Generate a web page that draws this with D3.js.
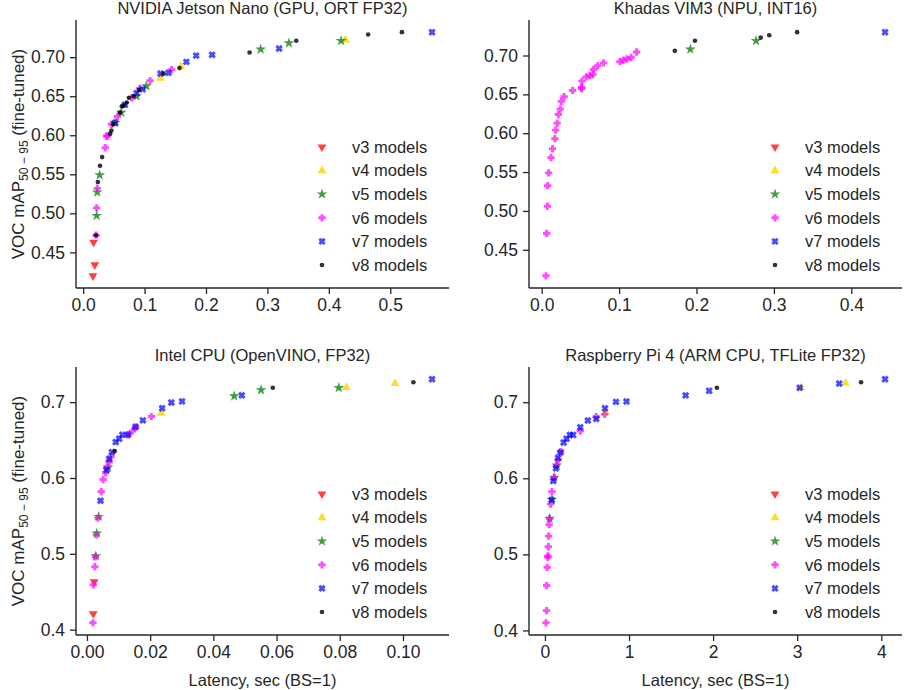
<!DOCTYPE html>
<html>
<head>
<meta charset="utf-8">
<script src="https://cdn.jsdelivr.net/npm/d3@7"></script>
<style>
  body { margin: 0; background: #fff; }
  text { font-family: "Liberation Sans", Arial, sans-serif; fill: #262626; }
</style>
</head>
<body>
<svg id="chart" width="905" height="690"></svg>
<script>
// series labels, one per model family
const seriesNames = ["v3 models", "v4 models", "v5 models", "v6 models", "v7 models", "v8 models"];
const panelTitles = [
  "NVIDIA Jetson Nano (GPU, ORT FP32)",
  "Khadas VIM3 (NPU, INT16)",
  "Intel CPU (OpenVINO, FP32)",
  "Raspberry Pi 4 (ARM CPU, TFLite FP32)"
];

// [latency sec, mAP]
const nanoV3 = [[0.016, 0.420], [0.019, 0.434], [0.017, 0.463]];
const nanoV4 = [[0.126, 0.673], [0.159, 0.688], [0.427, 0.722]];
const nanoV5 = [[0.022, 0.497], [0.023, 0.527], [0.027, 0.549], [0.052, 0.616], [0.062, 0.629],
  [0.087, 0.650], [0.103, 0.663], [0.289, 0.710], [0.335, 0.718], [0.420, 0.721]];
const nanoV6 = [[0.021, 0.472], [0.022, 0.507], [0.023, 0.532], [0.036, 0.584], [0.038, 0.599],
  [0.040, 0.599], [0.046, 0.614], [0.056, 0.624], [0.079, 0.648], [0.092, 0.660], [0.109, 0.670], [0.144, 0.684]];
const nanoV7 = [[0.052, 0.616], [0.068, 0.639], [0.087, 0.654], [0.097, 0.659], [0.126, 0.679], [0.139, 0.680],
  [0.168, 0.694], [0.184, 0.702], [0.210, 0.703], [0.319, 0.711], [0.568, 0.732]];
const nanoV8 = [[0.021, 0.472], [0.024, 0.540], [0.0275, 0.561], [0.031, 0.572], [0.044, 0.602], [0.046, 0.606],
  [0.049, 0.614], [0.060, 0.629], [0.063, 0.637], [0.066, 0.638], [0.071, 0.642], [0.0745, 0.648], [0.082, 0.650],
  [0.091, 0.658], [0.131, 0.679], [0.157, 0.686], [0.271, 0.706], [0.347, 0.721], [0.464, 0.729], [0.519, 0.732]];

const vimV3 = [];
const vimV4 = [];
const vimV5 = [[0.192, 0.708], [0.277, 0.719]];
const vimV6 = [[0.0055, 0.4165], [0.0064, 0.471], [0.0073, 0.506], [0.0077, 0.5325], [0.009, 0.549], [0.012, 0.5686],
  [0.014, 0.580], [0.017, 0.593], [0.018, 0.604], [0.020, 0.613], [0.0215, 0.624], [0.024, 0.631], [0.0253, 0.641],
  [0.029, 0.647], [0.040, 0.655], [0.0515, 0.6575], [0.0515, 0.659], [0.052, 0.667], [0.0575, 0.6725], [0.062, 0.674],
  [0.066, 0.6755], [0.067, 0.682], [0.0725, 0.687], [0.080, 0.6905], [0.101, 0.692], [0.1055, 0.694], [0.110, 0.6955],
  [0.1155, 0.6975], [0.1227, 0.7045]];
const vimV7 = [[0.4436, 0.730]];
const vimV8 = [[0.172, 0.706], [0.198, 0.719], [0.283, 0.723], [0.294, 0.726], [0.330, 0.730]];

const cpuV3 = [[0.0020, 0.421], [0.0023, 0.463]];
const cpuV4 = [[0.0235, 0.6855], [0.0821, 0.7195], [0.0975, 0.7246]];
const cpuV5 = [[0.0028, 0.497], [0.0031, 0.527], [0.0037, 0.549], [0.0067, 0.614], [0.0466, 0.708], [0.0551, 0.716], [0.0797, 0.719]];
const cpuV6 = [[0.0019, 0.409], [0.0020, 0.459], [0.0025, 0.483], [0.0027, 0.496], [0.0030, 0.525], [0.0035, 0.547],
  [0.0045, 0.582], [0.0051, 0.598], [0.0059, 0.607], [0.0063, 0.614], [0.0070, 0.621], [0.0076, 0.628], [0.0130, 0.657],
  [0.0144, 0.662], [0.0154, 0.667], [0.0204, 0.681]];
const cpuV7 = [[0.0043, 0.570], [0.0062, 0.6105], [0.0070, 0.625], [0.0079, 0.634], [0.0091, 0.6474], [0.0102, 0.6518],
  [0.0112, 0.657], [0.0130, 0.657], [0.0154, 0.6675], [0.0177, 0.676], [0.0238, 0.692], [0.0267, 0.6995], [0.0301, 0.701],
  [0.0490, 0.709], [0.1092, 0.7303]];
const cpuV8 = [[0.0088, 0.6355], [0.0588, 0.719], [0.1033, 0.7262]];

const rpiV3 = [];
const rpiV4 = [[0.72, 0.687], [3.045, 0.719], [3.575, 0.725]];
const rpiV5 = [[0.055, 0.547], [0.083, 0.572], [0.11, 0.601], [0.14, 0.617]];
const rpiV6 = [[0.012, 0.410], [0.02, 0.426], [0.02, 0.459], [0.027, 0.483], [0.035, 0.496], [0.035, 0.498], [0.04, 0.510],
  [0.044, 0.524], [0.05, 0.539], [0.055, 0.547], [0.067, 0.566], [0.083, 0.5825], [0.11, 0.601], [0.138, 0.617],
  [0.158, 0.624], [0.186, 0.635], [0.42, 0.662], [0.61, 0.681], [0.71, 0.684]];
const rpiV7 = [[0.079, 0.5715], [0.099, 0.5965], [0.131, 0.613], [0.155, 0.627], [0.186, 0.634], [0.222, 0.647],
  [0.257, 0.652], [0.296, 0.657], [0.335, 0.657], [0.42, 0.667], [0.51, 0.676], [0.61, 0.678], [0.714, 0.692],
  [0.845, 0.7005], [0.97, 0.701], [1.673, 0.709], [1.953, 0.715], [3.03, 0.719], [3.50, 0.7246], [4.045, 0.7303]];
const rpiV8 = [[2.045, 0.719], [3.76, 0.7263]];

const panels = [
  { title: panelTitles[0], series: [nanoV3, nanoV4, nanoV5, nanoV6, nanoV7, nanoV8], xTicks: d3.range(0, 0.51, 0.1), xFmt: ".1f", yTicks: d3.range(0.45, 0.701, 0.05), yFmt: ".2f" },
  { title: panelTitles[1], series: [vimV3, vimV4, vimV5, vimV6, vimV7, vimV8], xTicks: d3.range(0, 0.41, 0.1), xFmt: ".1f", yTicks: d3.range(0.45, 0.701, 0.05), yFmt: ".2f" },
  { title: panelTitles[2], series: [cpuV3, cpuV4, cpuV5, cpuV6, cpuV7, cpuV8], xTicks: d3.range(0, 0.101, 0.02), xFmt: ".2f", yTicks: d3.range(0.4, 0.701, 0.1), yFmt: ".1f" },
  { title: panelTitles[3], series: [rpiV3, rpiV4, rpiV5, rpiV6, rpiV7, rpiV8], xTicks: d3.range(0, 4.1, 1), xFmt: "d", yTicks: d3.range(0.4, 0.701, 0.1), yFmt: ".1f" }
];

const boxes = [
  { l: 76, r: 449, t: 20, b: 288 },
  { l: 529, r: 902, t: 20, b: 288 },
  { l: 76, r: 449, t: 367, b: 635 },
  { l: 529, r: 902, t: 367, b: 635 }
];

// filled plus with thick arms, like matplotlib's "P" marker
const symbolFatPlus = {
  draw(ctx, size) {
    const w = Math.sqrt(size / 0.64) / 2;
    const t = w * 0.4;
    ctx.moveTo(-t, -w); ctx.lineTo(t, -w); ctx.lineTo(t, -t); ctx.lineTo(w, -t);
    ctx.lineTo(w, t); ctx.lineTo(t, t); ctx.lineTo(t, w); ctx.lineTo(-t, w);
    ctx.lineTo(-t, t); ctx.lineTo(-w, t); ctx.lineTo(-w, -t); ctx.lineTo(-t, -t);
    ctx.closePath();
  }
};

const markers = [
  { type: d3.symbolTriangle, rot: 180, size: 34, color: "#ff0000", op: 0.75 },
  { type: d3.symbolTriangle, rot: 0, size: 34, color: "#ffd700", op: 0.85 },
  { type: d3.symbolStar, rot: 0, size: 36, color: "#228b22", op: 0.85 },
  { type: symbolFatPlus, rot: 0, size: 34, color: "#ff00ff", op: 0.7 },
  { type: symbolFatPlus, rot: 45, size: 36, color: "#0000ff", op: 0.7 },
  { type: d3.symbolCircle, rot: 0, size: 17, color: "#000000", op: 0.8 }
];

const ink = "#262626";
const fontSize = 16.5;
const tickFont = 17.5;
const svg = d3.select("#chart");

// matplotlib style 5% margins around the data
function padded(ext) {
  const p = (ext[1] - ext[0]) * 0.05;
  return [ext[0] - p, ext[1] + p];
}

function symbolPath(m) {
  return d3.symbol().type(m.type).size(m.size)();
}

panels.forEach((panel, i) => {
  const box = boxes[i];
  const all = panel.series.flat();
  const x = d3.scaleLinear().domain(padded(d3.extent(all, d => d[0]))).range([box.l, box.r]);
  const y = d3.scaleLinear().domain(padded(d3.extent(all, d => d[1]))).range([box.b, box.t]);
  const g = svg.append("g");

  const xAxis = g.append("g").attr("transform", `translate(0,${box.b})`)
    .call(d3.axisBottom(x).tickValues(panel.xTicks).tickFormat(d3.format(panel.xFmt)).tickSize(6).tickPadding(5));
  const yAxis = g.append("g").attr("transform", `translate(${box.l},0)`)
    .call(d3.axisLeft(y).tickValues(panel.yTicks).tickFormat(d3.format(panel.yFmt)).tickSize(6).tickPadding(5));
  [xAxis, yAxis].forEach(a => {
    a.select(".domain").attr("stroke", ink).attr("stroke-width", 1.4);
    a.selectAll(".tick line").attr("stroke", ink).attr("stroke-width", 1.3);
    a.selectAll(".tick text").attr("font-size", tickFont).style("fill", ink);
  });
  // the spine runs the whole panel edge, not only tick range
  xAxis.select(".domain").attr("d", `M${box.l},0H${box.r}`);
  yAxis.select(".domain").attr("d", `M0,${box.b}V${box.t}`);

  g.append("text")
    .attr("x", (box.l + box.r) / 2).attr("y", box.t - 6)
    .attr("text-anchor", "middle").attr("font-size", fontSize)
    .text(panel.title);

  panel.series.forEach((pts, s) => {
    const m = markers[s];
    g.append("g").selectAll("path").data(pts).join("path")
      .attr("d", symbolPath(m))
      .attr("transform", d => `translate(${x(d[0])},${y(d[1])}) rotate(${m.rot})`)
      .attr("fill", m.color).attr("fill-opacity", m.op);
  });

  // legend, bottom right
  const lg = g.append("g");
  seriesNames.forEach((name, s) => {
    const m = markers[s];
    const ly = box.b - 141 + s * 23.6;
    const lx = box.l + 246;
    lg.append("path").attr("d", symbolPath(m))
      .attr("transform", `translate(${lx},${ly}) rotate(${m.rot})`)
      .attr("fill", m.color).attr("fill-opacity", m.op);
    lg.append("text").attr("x", lx + 30).attr("y", ly).attr("dy", "0.35em")
      .attr("font-size", fontSize).text(name);
  });

  if (i % 2 === 0) {
    const yl = g.append("text")
      .attr("transform", `translate(24,${(box.t + box.b) / 2}) rotate(-90)`)
      .attr("text-anchor", "middle").attr("font-size", fontSize + 0.5);
    yl.append("tspan").text("VOC mAP");
    yl.append("tspan").attr("dy", 4).attr("font-size", 12).text("50 − 95");
    yl.append("tspan").attr("dy", -4).text(" (fine-tuned)");
  }
  if (i >= 2) {
    g.append("text")
      .attr("x", (box.l + box.r) / 2).attr("y", box.b + 51)
      .attr("text-anchor", "middle").attr("font-size", fontSize)
      .text("Latency, sec (BS=1)");
  }
});
</script>
</body>
</html>
